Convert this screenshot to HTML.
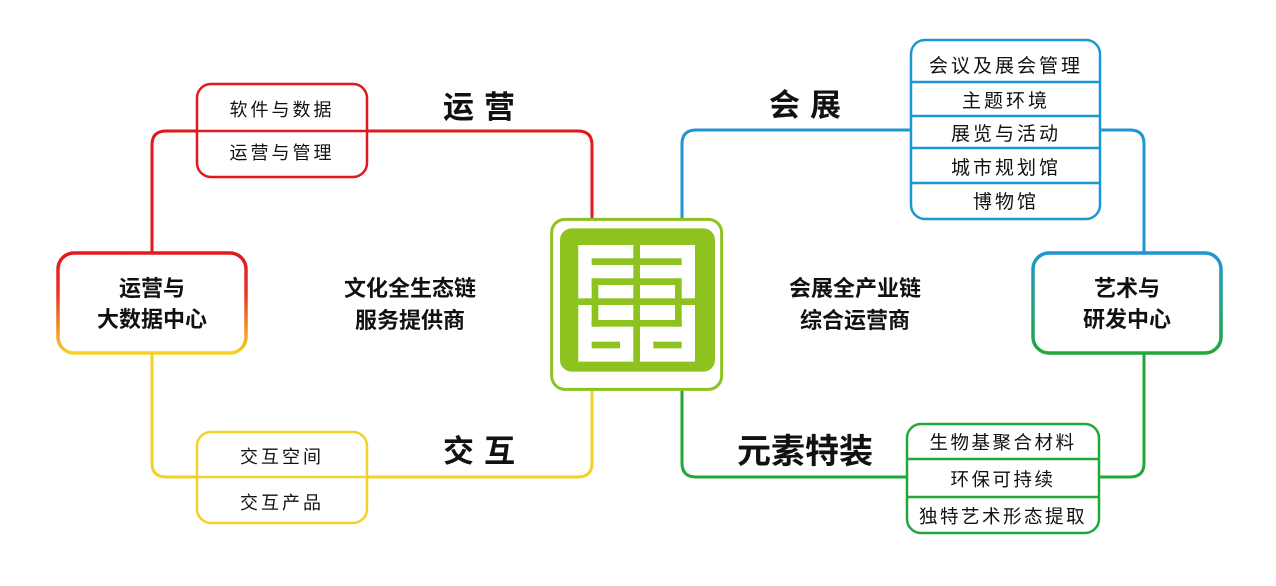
<!DOCTYPE html>
<html><head><meta charset="utf-8"><style>
body{margin:0;background:#fff;}
svg{display:block;}
text{font-family:"Liberation Sans","Noto Sans CJK SC",sans-serif;fill:#111;}
</style></head><body>
<svg width="1276" height="586" viewBox="0 0 1276 586" xmlns="http://www.w3.org/2000/svg">
<defs>
<linearGradient id="ry" x1="0" y1="0" x2="0" y2="1">
<stop offset="0" stop-color="#e0191f"/><stop offset="0.4" stop-color="#e8332a"/><stop offset="1" stop-color="#f3d225"/>
</linearGradient>
<linearGradient id="bg" x1="0" y1="0" x2="0" y2="1">
<stop offset="0" stop-color="#1e96d2"/><stop offset="1" stop-color="#22a83a"/>
</linearGradient>
</defs>
<g fill="none" stroke-width="3">
<path d="M592 218 V145 Q592 131 578 131 H166 Q152 131 152 145 V253" stroke="#e0191f"/>
<path d="M152 353 V463 Q152 477 166 477 H578 Q592 477 592 463 V388" stroke="#f2d12a"/>
<path d="M682 218 V144 Q682 130 696 130 H1130 Q1144 130 1144 144 V253" stroke="#1e96d2"/>
<path d="M1144 353 V463 Q1144 477 1130 477 H696 Q682 477 682 463 V388" stroke="#22a83a"/>
</g>
<rect x="197" y="84" width="170" height="93" rx="14" fill="#fff" stroke="#e0191f" stroke-width="2.5"/>
<line x1="197" y1="131" x2="367" y2="131" stroke="#e0191f" stroke-width="2.5"/>
<text x="282" y="116" font-size="18" text-anchor="middle" letter-spacing="3">软件与数据</text>
<text x="282" y="159" font-size="18" text-anchor="middle" letter-spacing="3">运营与管理</text>
<rect x="197" y="432" width="170" height="91" rx="14" fill="#fff" stroke="#f2d12a" stroke-width="2.5"/>
<line x1="197" y1="477" x2="367" y2="477" stroke="#f2d12a" stroke-width="2.5"/>
<text x="282" y="463" font-size="18" text-anchor="middle" letter-spacing="3">交互空间</text>
<text x="282" y="509" font-size="18" text-anchor="middle" letter-spacing="3">交互产品</text>
<rect x="58" y="253" width="188" height="100" rx="16" fill="#fff" stroke="url(#ry)" stroke-width="3.5"/>
<text x="152" y="296" font-size="22" font-weight="bold" text-anchor="middle">运营与</text>
<text x="152" y="327" font-size="22" font-weight="bold" text-anchor="middle">大数据中心</text>
<rect x="1033" y="253" width="188" height="100" rx="16" fill="#fff" stroke="url(#bg)" stroke-width="3.5"/>
<text x="1127" y="296" font-size="22" font-weight="bold" text-anchor="middle">艺术与</text>
<text x="1127" y="327" font-size="22" font-weight="bold" text-anchor="middle">研发中心</text>
<rect x="911" y="40" width="189" height="179" rx="14" fill="#fff" stroke="#1e96d2" stroke-width="2.5"/>
<g stroke="#1e96d2" stroke-width="2.5">
<line x1="911" y1="82" x2="1100" y2="82"/><line x1="911" y1="116" x2="1100" y2="116"/>
<line x1="911" y1="148" x2="1100" y2="148"/><line x1="911" y1="183" x2="1100" y2="183"/>
</g>
<g font-size="19" text-anchor="middle" letter-spacing="3">
<text x="1006" y="72">会议及展会管理</text>
<text x="1006" y="107">主题环境</text>
<text x="1006" y="140">展览与活动</text>
<text x="1006" y="174">城市规划馆</text>
<text x="1006" y="208">博物馆</text>
</g>
<rect x="907" y="424" width="192" height="109" rx="14" fill="#fff" stroke="#22a83a" stroke-width="2.5"/>
<g stroke="#22a83a" stroke-width="2.5">
<line x1="907" y1="459" x2="1099" y2="459"/><line x1="907" y1="497" x2="1099" y2="497"/>
</g>
<g font-size="18.5" text-anchor="middle" letter-spacing="2.5">
<text x="1003" y="449">生物基聚合材料</text>
<text x="1003" y="486">环保可持续</text>
<text x="1003" y="523">独特艺术形态提取</text>
</g>
<g font-size="31" font-weight="bold" text-anchor="middle">
<text x="484" y="118" letter-spacing="10">运营</text>
<text x="484" y="462" letter-spacing="10">交互</text>
<text x="810" y="116" letter-spacing="10">会展</text>
<text x="805" y="463" font-size="34">元素特装</text>
</g>
<g font-size="22" font-weight="bold" text-anchor="middle">
<text x="410" y="296">文化全生态链</text>
<text x="410" y="328">服务提供商</text>
<text x="855" y="296">会展全产业链</text>
<text x="855" y="328">综合运营商</text>
</g>
<g transform="translate(540,210) scale(0.3333)">
<rect x="35" y="28" width="510" height="510" rx="40" fill="#fff" stroke="#8dc21f" stroke-width="9"/>
<rect x="60" y="55" width="465" height="430" rx="35" fill="#8dc21f"/>
<rect x="115" y="105" width="165" height="350" fill="#fff"/>
<rect x="300" y="105" width="165" height="350" fill="#fff"/>
<g fill="#8dc21f">
<rect x="155" y="145" width="270" height="20"/>
<rect x="115" y="265" width="350" height="20"/>
<rect x="155" y="205" width="270" height="20"/>
<rect x="155" y="330" width="270" height="20"/>
<rect x="155" y="205" width="20" height="145"/>
<rect x="405" y="205" width="20" height="145"/>
<rect x="155" y="395" width="85" height="20"/>
<rect x="340" y="395" width="85" height="20"/>
</g>
</g>
</svg>
</body></html>
